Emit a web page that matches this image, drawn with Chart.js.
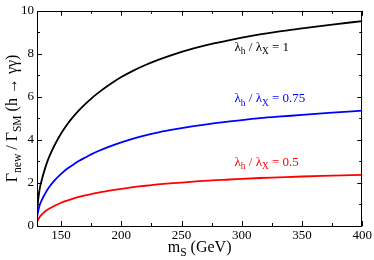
<!DOCTYPE html>
<html><head><meta charset="utf-8">
<script src="https://cdn.jsdelivr.net/npm/chart.js@4/dist/chart.umd.min.js"></script>
<style>html,body{margin:0;padding:0;background:#fff}#wrap{width:374px;height:260px;position:relative}</style>
</head><body><div id="wrap"><canvas id="c"></canvas></div>
<script>
const massValues = [130,132,134,136,138,140,145,150,155,160,165,170,175,180,190,200,210,220,230,240,250,260,275,290,300,315,330,350,375,400];
const ratioOne   = [0.75,1.65,2.15,2.55,2.9,3.2,3.8,4.3,4.72,5.07,5.38,5.66,5.92,6.15,6.56,6.92,7.22,7.48,7.71,7.91,8.09,8.25,8.46,8.64,8.75,8.9,9.03,9.18,9.36,9.52];
const ratioThreeQuarters = [0.42,0.93,1.21,1.43,1.63,1.8,2.14,2.42,2.66,2.85,3.03,3.18,3.33,3.46,3.69,3.89,4.06,4.21,4.34,4.45,4.55,4.64,4.76,4.86,4.92,5.01,5.08,5.16,5.27,5.36];
const ratioHalf  = [0.19,0.41,0.54,0.64,0.73,0.8,0.95,1.08,1.18,1.27,1.35,1.42,1.48,1.54,1.64,1.73,1.81,1.87,1.93,1.98,2.02,2.06,2.12,2.16,2.19,2.23,2.26,2.3,2.34,2.38];
const xMajorTicks = [150,200,250,300,350,400];
const xMinorTicks = [175,225,275,325,375];
const yMajorTicks = [0,2,4,6,8,10];
const yMinorTicks = [1,3,5,7,9];
const seriesLabels = ['1','0.75','0.5'];

const SERIF = '"Liberation Serif","Times New Roman",serif';
function pts(ys){return massValues.map((m,i)=>({x:m,y:ys[i]}));}

function drawRich(ctx, parts, x, y, size, align){
  const sub = size*0.72;
  let w = 0;
  parts.forEach(p=>{ctx.font=(p[1]?sub:size)+'px '+SERIF; w+=ctx.measureText(p[0]).width;});
  let cx = align==='center'? x-w/2 : x;
  parts.forEach(p=>{
    ctx.font=(p[1]?sub:size)+'px '+SERIF;
    ctx.fillText(p[0], cx, p[1]? y+size*0.28 : y);
    cx += ctx.measureText(p[0]).width;
  });
}

const decor = {
  id:'decor',
  afterDraw(chart){
    const ctx=chart.ctx, a=chart.chartArea, xs=chart.scales.x, ys=chart.scales.y;
    ctx.save();
    ctx.strokeStyle='#000'; ctx.lineWidth=1;
    ctx.strokeRect(Math.round(a.left)+0.5, Math.round(a.top)+0.5, Math.round(a.right-a.left)-1, Math.round(a.bottom-a.top));
    ctx.beginPath();
    const tick=(v,len,isX)=>{
      if(isX){const p=Math.round(xs.getPixelForValue(v))+0.5;
        ctx.moveTo(p,a.bottom);ctx.lineTo(p,a.bottom-len);
        ctx.moveTo(p,a.top);ctx.lineTo(p,a.top+len);}
      else{const p=Math.round(ys.getPixelForValue(v))+0.5;
        ctx.moveTo(a.left,p);ctx.lineTo(a.left+len,p);
        ctx.moveTo(a.right,p);ctx.lineTo(a.right-len,p);}
    };
    xMajorTicks.forEach(v=>tick(v,5,true));
    xMinorTicks.forEach(v=>tick(v,3,true));
    yMajorTicks.forEach(v=>tick(v,5,false));
    yMinorTicks.forEach(v=>tick(v,3,false));
    ctx.stroke();
    ctx.fillStyle='#000'; ctx.textBaseline='alphabetic';
    drawRich(ctx, [['m',0],['S',1],[' (GeV)',0]], (a.left+a.right)/2, 252, 16, 'center');
    ctx.save();
    ctx.translate(17,(a.top+a.bottom)/2); ctx.rotate(-Math.PI/2);
    drawRich(ctx, [['\u0393',0],['new',1],[' / \u0393',0],['SM',1],[' (h \u2192 \u03B3\u03B3)',0]], 0, 0, 16, 'center');
    ctx.restore();
    const labs=[[seriesLabels[0],'#000',8.15],[seriesLabels[1],'#0000ff',5.75],[seriesLabels[2],'#ff0000',2.8]];
    labs.forEach(l=>{
      ctx.fillStyle=l[1];
      drawRich(ctx, [['\u03BB',0],['h',1],[' / \u03BB',0],['X',1],[' = '+l[0],0]], xs.getPixelForValue(294), ys.getPixelForValue(l[2]), 13, 'left');
    });
    ctx.restore();
  }
};

const ds=(d,c)=>({data:pts(d),borderColor:c,borderWidth:1.8,pointRadius:0,fill:false,cubicInterpolationMode:'monotone'});
new Chart(document.getElementById('c'),{
  type:'line',
  data:{datasets:[ds(ratioOne,'#000000'),ds(ratioThreeQuarters,'#0000ff'),ds(ratioHalf,'#ff0000')]},
  options:{
    responsive:true,maintainAspectRatio:false,animation:false,devicePixelRatio:1,
    layout:{padding:{top:6,right:11,left:0,bottom:0}},
    plugins:{legend:{display:false},tooltip:{enabled:false}},
    scales:{
      x:{type:'linear',min:130,max:400,
        afterBuildTicks:s=>{s.ticks=xMajorTicks.map(v=>({value:v}));},
        afterFit:s=>{s.height=34;},
        grid:{display:false,drawTicks:false},border:{display:false},
        ticks:{padding:2,color:'#000',font:{family:SERIF,size:13},maxRotation:0}},
      y:{type:'linear',min:0,max:10,
        afterBuildTicks:s=>{s.ticks=yMajorTicks.map(v=>({value:v}));},
        afterFit:s=>{s.width=37;},
        grid:{display:false,drawTicks:false},border:{display:false},
        ticks:{padding:3,color:'#000',font:{family:SERIF,size:13}}}
    }
  },
  plugins:[decor]
});
</script></body></html>
